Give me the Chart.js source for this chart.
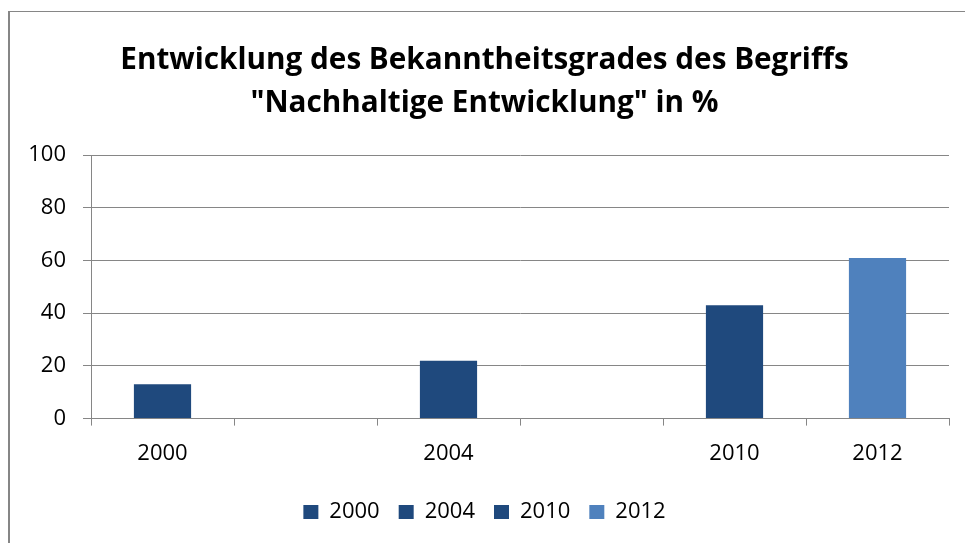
<!DOCTYPE html>
<html lang="de">
<head>
    <meta charset="UTF-8">
    <title>Bekanntheitsgrad Nachhaltige Entwicklung</title>
    <script src="https://cdn.jsdelivr.net/npm/chart.js"></script>
    <style>
        body {
            margin: 0;
            background: white;
            overflow: hidden;
        }
        .frame {
            position: absolute;
            left: 8px;
            top: 11px;
            width: 1000px;
            height: 600px;
            border-left: 2px solid #868686;
            border-top: 1px solid #868686;
        }
        .chart-box {
            position: absolute;
            left: 0;
            top: 0;
            width: 965px;
            height: 543px;
        }
    </style>
</head>
<body>
    <div class="frame"></div>
    <div class="chart-box">
        <canvas id="awarenessChart"></canvas>
    </div>

    <script>
    // x slots (empty slots keep the uneven spacing of the original)
    const categories = ['2000', '', '2004', '', '2010', '2012'];
    const seriesNames = ['2000', '2004', '2010', '2012'];
    const seriesSlot = [0, 2, 4, 5];
    const seriesValues = [13, 22, 43, 61];
    const seriesColors = ['#1F497D', '#1F497D', '#1F497D', '#4F81BD'];
    const yTicks = [0, 20, 40, 60, 80, 100];

    const datasets = seriesNames.map((name, i) => {
        const data = categories.map(() => null);
        data[seriesSlot[i]] = seriesValues[i];
        return {
            label: name,
            data: data,
            backgroundColor: seriesColors[i],
            barPercentage: 0.4,
            categoryPercentage: 1.0
        };
    });

    const ctx = document.getElementById('awarenessChart').getContext('2d');
    new Chart(ctx, {
        type: 'bar',
        data: {
            labels: categories,
            datasets: datasets
        },
        options: {
            responsive: true,
            maintainAspectRatio: false,
            animation: false,
            layout: {
                padding: { left: 20, right: 16, top: 0, bottom: 10 }
            },
            plugins: {
                title: {
                    display: true,
                    text: ['Entwicklung des Bekanntheitsgrades des Begriffs', '"Nachhaltige Entwicklung" in %'],
                    color: '#000',
                    font: { family: 'Open Sans', size: 29.7, weight: 'bold', lineHeight: 1.45 },
                    padding: { top: 39, bottom: 30 }
                },
                legend: {
                    display: true,
                    position: 'bottom',
                    labels: {
                        color: '#000',
                        font: { family: 'Open Sans', size: 22 },
                        boxWidth: 15,
                        boxHeight: 14,
                        padding: 19
                    }
                },
                tooltip: { enabled: false }
            },
            scales: {
                x: {
                    stacked: true,
                    grid: {
                        offset: true,
                        drawOnChartArea: false,
                        drawTicks: true,
                        tickLength: 7,
                        color: '#868686',
                        lineWidth: 1
                    },
                    border: { color: '#868686', width: 1 },
                    ticks: {
                        color: '#000',
                        padding: 15,
                        font: { family: 'Open Sans', size: 22 }
                    }
                },
                y: {
                    stacked: true,
                    min: 0,
                    max: 100,
                    afterBuildTicks: (scale) => {
                        scale.ticks = yTicks.map(v => ({ value: v }));
                    },
                    afterFit: (scale) => {
                        scale.width = 71;
                    },
                    grid: {
                        color: '#868686',
                        lineWidth: 1,
                        tickLength: 8
                    },
                    border: { color: '#868686', width: 1 },
                    ticks: {
                        color: '#000',
                        padding: 17,
                        font: { family: 'Open Sans', size: 22 }
                    }
                }
            }
        }
    });
    </script>
</body>
</html>
